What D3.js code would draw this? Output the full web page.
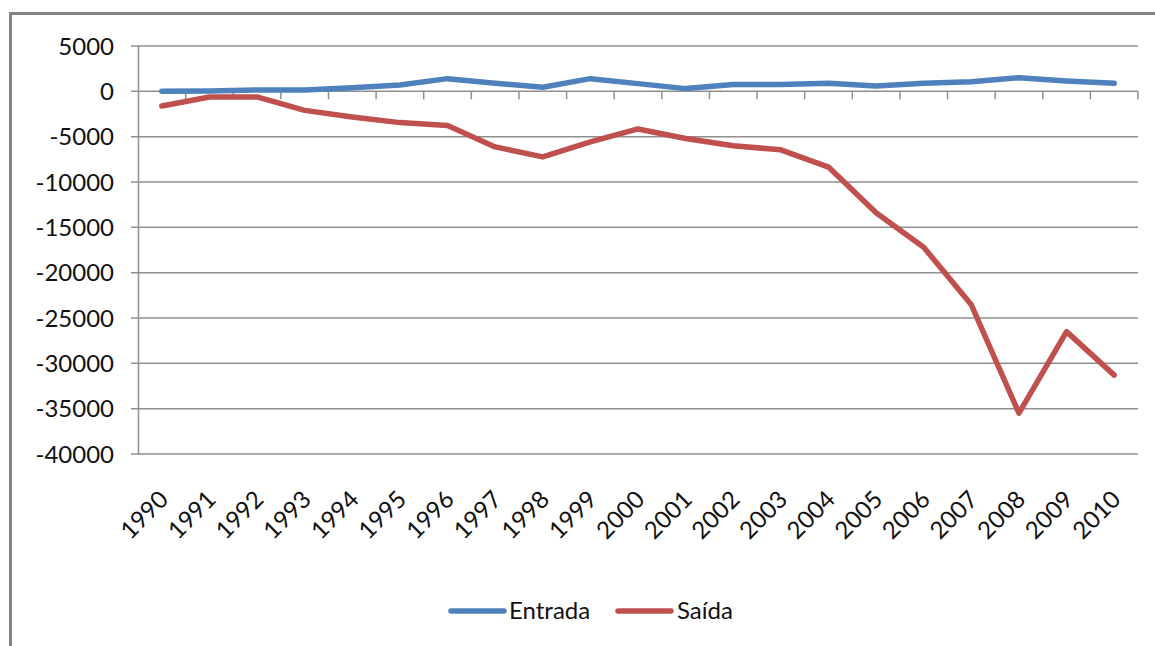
<!DOCTYPE html>
<html>
<head>
<meta charset="utf-8">
<script src="https://cdn.jsdelivr.net/npm/d3@7"></script>
<style>
  html, body { margin: 0; padding: 0; background: #ffffff; }
  svg { display: block; }
  text { font-family: Lato, Carlito, "Liberation Sans", sans-serif; fill: #111111; }
</style>
</head>
<body>
<svg id="chart" width="1155" height="646"></svg>
<script>
const years = ["1990","1991","1992","1993","1994","1995","1996","1997","1998","1999","2000",
               "2001","2002","2003","2004","2005","2006","2007","2008","2009","2010"];
const entrada = [20, 50, 150, 150, 400, 700, 1400, 900, 450, 1400, 850,
                 300, 750, 750, 880, 600, 880, 1050, 1500, 1150, 880];
const saida = [-1620, -620, -620, -2100, -2830, -3450, -3780, -6130, -7230, -5580, -4150,
               -5200, -6000, -6450, -8350, -13400, -17200, -23550, -35500, -26500, -31300];
const yTicks = [5000, 0, -5000, -10000, -15000, -20000, -25000, -30000, -35000, -40000];
const seriesNames = ["Entrada", "Saída"];
const seriesColors = ["#4F81BD", "#C0504D"];

const svg = d3.select("#chart");

// outer frame (top and left edges visible)
svg.append("path")
  .attr("d", "M10.5,646 L10.5,13.5 L1155,13.5")
  .attr("fill", "none").attr("stroke", "#828282").attr("stroke-width", 3);

const x = d3.scaleBand().domain(years).range([138, 1138]);
const y = d3.scaleLinear().domain([-40000, 5000]).range([454, 46]);
const cx = d => x(d) + x.bandwidth() / 2;

// gridlines
svg.append("g").selectAll("line").data(yTicks).join("line")
  .attr("x1", 131).attr("x2", 1138)
  .attr("y1", d => y(d)).attr("y2", d => y(d))
  .attr("stroke", "#8f8f8f").attr("stroke-width", 1.5);

// y axis line
svg.append("line")
  .attr("x1", 138.5).attr("x2", 138.5)
  .attr("y1", y(5000)).attr("y2", y(-40000))
  .attr("stroke", "#8f8f8f").attr("stroke-width", 1.5);

// y labels
svg.append("g").selectAll("text").data(yTicks).join("text")
  .attr("x", 114).attr("y", d => y(d)).attr("dy", "0.36em")
  .attr("text-anchor", "end").attr("font-size", 24)
  .text(d => d);

// x axis ticks at category boundaries on the zero line
const boundaries = years.map(d => x(d)).concat([x(years[years.length - 1]) + x.bandwidth()]).slice(1);
svg.append("g").selectAll("line").data(boundaries).join("line")
  .attr("x1", d => d).attr("x2", d => d)
  .attr("y1", y(0)).attr("y2", y(0) + 8)
  .attr("stroke", "#8f8f8f").attr("stroke-width", 1.5);

// x labels
svg.append("g").selectAll("text").data(years).join("text")
  .attr("transform", d => `translate(${cx(d) + 8},${501}) rotate(-45)`)
  .attr("text-anchor", "end").attr("font-size", 24)
  .text(d => d);

// lines
const line = d3.line().x((v, i) => cx(years[i])).y(v => y(v));
[entrada, saida].forEach((vals, k) => {
  svg.append("path")
    .attr("d", line(vals))
    .attr("fill", "none")
    .attr("stroke", seriesColors[k])
    .attr("stroke-width", 5.5)
    .attr("stroke-linejoin", "round")
    .attr("stroke-linecap", "round");
});

// legend
const legendItems = [{x: 451, tx: 509}, {x: 618, tx: 677}];
seriesNames.forEach((name, k) => {
  const it = legendItems[k];
  svg.append("line")
    .attr("x1", it.x).attr("x2", it.x + 53)
    .attr("y1", 611).attr("y2", 611)
    .attr("stroke", seriesColors[k]).attr("stroke-width", 5.5)
    .attr("stroke-linecap", "round");
  svg.append("text")
    .attr("x", it.tx).attr("y", 619)
    .attr("font-size", 24)
    .text(name);
});
</script>
</body>
</html>
